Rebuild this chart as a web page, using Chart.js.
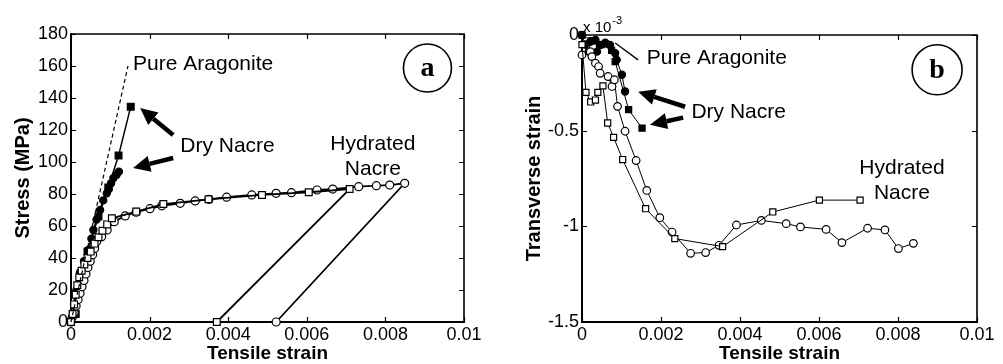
<!DOCTYPE html>
<html>
<head>
<meta charset="utf-8">
<script src="https://cdn.jsdelivr.net/npm/chart.js@4.4.1/dist/chart.umd.min.js"></script>
<style>
  html, body { margin: 0; padding: 0; background: #fff; }
  #wrap { position: relative; width: 1003px; height: 364px; }
  #wrap canvas { position: absolute; left: 0; top: 0; }
</style>
</head>
<body>
<div id="wrap">
  <canvas id="panelA" width="1003" height="364"></canvas>
  <canvas id="panelB" width="1003" height="364"></canvas>
</div>
<script>
// ---- panel (a): stress vs tensile strain, [strain, MPa] ----
const pureAragoniteA = [[0, 0], [0.00145, 160]];
const dryNacreSquaresA = [[0, 0], [0.00012, 5], [0.00042, 44], [0.0007, 66], [0.00095, 84], [0.00121, 104], [0.00152, 134.6]];
const dryNacreCirclesA = [[0, 0], [0.00007, 4], [0.0001, 10], [0.00014, 20], [0.00023, 31], [0.00033, 38], [0.00044, 45],
  [0.00052, 52], [0.00057, 57.5], [0.00065, 64], [0.00074, 70], [0.00082, 76], [0.00091, 80.4], [0.00096, 83],
  [0.00102, 86.7], [0.00108, 90], [0.00116, 92], [0.00122, 94]];
const hydratedCirclesA = [[0, 0], [0.00003, 3], [0.00008, 6], [0.00013, 10], [0.00018, 14], [0.00023, 18], [0.00028, 22],
  [0.00033, 26], [0.00038, 30], [0.00043, 34], [0.00049, 38], [0.00055, 42], [0.0006, 46], [0.00065, 50.2],
  [0.00078, 53.3], [0.00092, 57.5], [0.0011, 62.7], [0.00138, 66.3], [0.00166, 68.6], [0.00201, 70.8],
  [0.00231, 72.6], [0.00278, 74.2], [0.00316, 75.7], [0.00351, 76.7], [0.00396, 78], [0.0046, 79.4],
  [0.00522, 80.4], [0.00561, 80.8], [0.00626, 82.5], [0.00666, 83.1], [0.00732, 84.6], [0.00777, 85.2],
  [0.00811, 85.6], [0.00849, 86.7], [0.00522, 0]];
const hydratedSquaresA = [[0, 0], [0.00004, 5], [0.00008, 11], [0.00012, 17], [0.00016, 23], [0.00021, 28], [0.00027, 32],
  [0.00034, 36], [0.00042, 40], [0.0005, 44], [0.0006, 49], [0.0007, 53], [0.0008, 57], [0.00092, 61],
  [0.00104, 64.8], [0.00166, 69], [0.00235, 73.7], [0.0035, 76.7], [0.00486, 79.4], [0.00605, 81.1],
  [0.00709, 83.1], [0.00371, 0]];

// ---- panel (b): transverse strain (x 10^-3) vs tensile strain ----
const dryNacreCirclesB = [[0, 0], [0.00008, -0.05], [0.00017, -0.087], [0.00021, -0.035], [0.00034, -0.026],
  [0.00038, -0.087], [0.00046, -0.052], [0.00059, -0.04], [0.00071, -0.052], [0.00084, -0.095],
  [0.00088, -0.13], [0.00101, -0.208], [0.00109, -0.295]];
const dryNacreSquaresB = [[0, 0], [0.00025, -0.03], [0.0005, -0.05], [0.00075, -0.08], [0.00084, -0.139],
  [0.00118, -0.39], [0.00152, -0.487]];
const hydratedCirclesB = [[0, -0.104], [0.00021, -0.087], [0.00025, -0.113], [0.00034, -0.147], [0.00042, -0.165],
  [0.00046, -0.2], [0.00066, -0.217], [0.00076, -0.269], [0.00082, -0.234], [0.0009, -0.373], [0.00109, -0.503],
  [0.00137, -0.656], [0.00164, -0.8125], [0.00197, -0.955], [0.00228, -1.03], [0.00275, -1.141], [0.00313, -1.137],
  [0.00347, -1.099], [0.00391, -0.993], [0.00454, -0.969], [0.00517, -0.986], [0.00553, -1.003], [0.00618, -1.016],
  [0.00658, -1.085], [0.00723, -1.01], [0.00767, -1.019], [0.00801, -1.116], [0.00839, -1.089]];
const hydratedSquaresB = [[0, -0.05], [0.0001, -0.3], [0.00022, -0.35], [0.00034, -0.34], [0.0004, -0.3],
  [0.00053, -0.266], [0.00065, -0.46], [0.0008, -0.535], [0.00103, -0.651], [0.00161, -0.908], [0.00235, -1.064],
  [0.00356, -1.106], [0.00483, -0.925], [0.00601, -0.863], [0.00704, -0.863]];

const strainTicks = { min: 0, max: 0.01, step: 0.002 };

const FONT = '"Liberation Sans", Arial, sans-serif';
const toXY = arr => arr.map(p => ({ x: p[0], y: p[1] }));

// annotations, positioned in data units
const notes = {
  panelA: {
    texts: [
      { t: 'Pure Aragonite', x: 0.00158, y: 161, align: 'left' },
      { t: 'Dry Nacre', x: 0.00278, y: 110, align: 'left' },
      { t: 'Hydrated', x: 0.00768, y: 111, align: 'center' },
      { t: 'Nacre', x: 0.00768, y: 95.6, align: 'center' }
    ],
    arrows: [
      { from: [0.0026, 116.9], to: [0.00176, 133.75] },
      { from: [0.0026, 102.5], to: [0.00158, 96.25] }
    ],
    leaders: [],
    badge: { t: 'a', x: 0.00907, y: 158.75, r: 24 },
    yTitle: 'Stress (MPa)',
    xTitle: 'Tensile strain',
    exponent: false
  },
  panelB: {
    texts: [
      { t: 'Pure Aragonite', x: 0.00164, y: -0.12, align: 'left' },
      { t: 'Dry Nacre', x: 0.00277, y: -0.406, align: 'left' },
      { t: 'Hydrated', x: 0.0081, y: -0.698, align: 'center' },
      { t: 'Nacre', x: 0.0081, y: -0.828, align: 'center' }
    ],
    arrows: [
      { from: [0.00261, -0.375], to: [0.00142, -0.297] },
      { from: [0.00256, -0.432], to: [0.00172, -0.469] }
    ],
    leaders: [{ from: [0.00142, -0.13], to: [0.00084, -0.042] }],
    badge: { t: 'b', x: 0.00899, y: -0.182, r: 25 },
    yTitle: 'Transverse strain',
    xTitle: 'Tensile strain',
    exponent: true
  }
};

// box + inward ticks on all four sides
const framePlugin = {
  id: 'frame',
  beforeDatasetsDraw(chart) {
    const { ctx, chartArea: a, scales } = chart;
    ctx.save();
    ctx.strokeStyle = '#000';
    ctx.lineWidth = 1.6;
    ctx.beginPath();
    ctx.moveTo(a.left, a.top); ctx.lineTo(a.right, a.top); ctx.lineTo(a.right, a.bottom);
    ctx.stroke();
    ctx.lineWidth = 1.2;
    ctx.beginPath();
    scales.x.ticks.forEach(t => {
      const px = Math.round(scales.x.getPixelForValue(t.value)) + 0.5;
      ctx.moveTo(px, a.bottom); ctx.lineTo(px, a.bottom - 5);
      ctx.moveTo(px, a.top); ctx.lineTo(px, a.top + 5);
    });
    scales.y.ticks.forEach(t => {
      const py = Math.round(scales.y.getPixelForValue(t.value)) + 0.5;
      ctx.moveTo(a.left, py); ctx.lineTo(a.left + 5, py);
      ctx.moveTo(a.right, py); ctx.lineTo(a.right - 5, py);
    });
    ctx.stroke();
    ctx.restore();
  }
};

function drawArrow(ctx, x1, y1, x2, y2) {
  const ang = Math.atan2(y2 - y1, x2 - x1);
  const headLen = 17, headHalf = 8;
  const bx = x2 - headLen * Math.cos(ang), by = y2 - headLen * Math.sin(ang);
  ctx.lineWidth = 4.5;
  ctx.beginPath(); ctx.moveTo(x1, y1); ctx.lineTo(bx, by); ctx.stroke();
  ctx.beginPath();
  ctx.moveTo(x2, y2);
  ctx.lineTo(bx + headHalf * Math.sin(ang), by - headHalf * Math.cos(ang));
  ctx.lineTo(bx - headHalf * Math.sin(ang), by + headHalf * Math.cos(ang));
  ctx.closePath(); ctx.fill();
}

const notesPlugin = {
  id: 'notes',
  afterDraw(chart) {
    const cfg = notes[chart.canvas.id];
    const { ctx, chartArea: a, scales: { x, y } } = chart;
    const X = v => x.getPixelForValue(v), Y = v => y.getPixelForValue(v);
    ctx.save();
    ctx.fillStyle = '#000'; ctx.strokeStyle = '#000';

    ctx.font = '21px ' + FONT;
    ctx.textBaseline = 'middle';
    cfg.texts.forEach(n => { ctx.textAlign = n.align; ctx.fillText(n.t, X(n.x), Y(n.y)); });

    cfg.arrows.forEach(ar => drawArrow(ctx, X(ar.from[0]), Y(ar.from[1]), X(ar.to[0]), Y(ar.to[1])));
    ctx.lineWidth = 1.3;
    cfg.leaders.forEach(l => {
      ctx.beginPath(); ctx.moveTo(X(l.from[0]), Y(l.from[1])); ctx.lineTo(X(l.to[0]), Y(l.to[1])); ctx.stroke();
    });

    // circled panel letter
    const b = cfg.badge;
    ctx.lineWidth = 1.6;
    ctx.beginPath(); ctx.arc(X(b.x), Y(b.y), b.r, 0, Math.PI * 2); ctx.stroke();
    ctx.font = 'bold 28px "Liberation Serif", "Times New Roman", serif';
    ctx.textAlign = 'center';
    ctx.fillText(b.t, X(b.x), Y(b.y) + 1);

    // axis titles
    ctx.font = 'bold 19px ' + FONT;
    ctx.textBaseline = 'alphabetic';
    ctx.fillText(cfg.xTitle, (a.left + a.right) / 2, 359);
    ctx.save();
    ctx.translate(a.left - 48, (a.top + a.bottom) / 2);
    ctx.rotate(-Math.PI / 2);
    ctx.font = 'bold 20px ' + FONT;
    ctx.textBaseline = 'middle';
    ctx.fillText(cfg.yTitle, 0, 0);
    ctx.restore();

    if (cfg.exponent) {
      ctx.textAlign = 'left';
      ctx.font = '15px ' + FONT;
      ctx.fillText('x 10', a.left + 1, a.top - 3);
      const w = ctx.measureText('x 10').width;
      ctx.font = '11px ' + FONT;
      ctx.fillText('-3', a.left + 1 + w + 1, a.top - 11);
    }
    ctx.restore();
  }
};

function series(data, style, filled, radius, lineWidth, dashed) {
  return {
    data: toXY(data),
    showLine: true,
    clip: false,
    borderColor: '#000',
    borderWidth: lineWidth,
    borderDash: dashed ? [4, 3] : [],
    pointStyle: style,
    pointRadius: radius,
    pointBorderWidth: 1.2,
    pointBorderColor: '#000',
    pointBackgroundColor: filled ? '#000' : '#fff',
    pointHoverRadius: radius
  };
}

// axis boxes have fixed sizes so the plot area lands where the reference has it
const Y_AXIS_W = 60, X_AXIS_H = 30;

function makeOptions(pad, yMin, yMax, yStep) {
  const tickFont = { family: FONT, size: 18 };
  const fmt = v => String(parseFloat(Number(v).toFixed(4)));
  return {
    responsive: false,
    animation: false,
    events: [],
    layout: { padding: pad },
    plugins: { legend: { display: false }, tooltip: { enabled: false } },
    scales: {
      x: {
        type: 'linear', min: strainTicks.min, max: strainTicks.max,
        afterFit: s => { s.height = X_AXIS_H; },
        border: { display: true, color: '#000', width: 2 },
        grid: { display: false, drawTicks: false, tickLength: 0 },
        ticks: { stepSize: strainTicks.step, color: '#000', font: tickFont, padding: 2, maxRotation: 0, autoSkip: false, callback: fmt }
      },
      y: {
        type: 'linear', min: yMin, max: yMax,
        afterFit: s => { s.width = Y_AXIS_W; },
        border: { display: true, color: '#000', width: 2 },
        grid: { display: false, drawTicks: false, tickLength: 0 },
        ticks: { stepSize: yStep, color: '#000', font: tickFont, padding: 3, autoSkip: false, callback: fmt }
      }
    }
  };
}

new Chart(document.getElementById('panelA'), {
  type: 'scatter',
  data: {
    datasets: [
      series(pureAragoniteA, false, false, 0, 1.2, true),
      series(hydratedSquaresA, 'rect', false, 4.8, 1.8),
      series(hydratedCirclesA, 'circle', false, 4, 1.8),
      series(dryNacreCirclesA, 'circle', true, 3.6, 1.5),
      series(dryNacreSquaresA, 'rect', true, 4.8, 1.5)
    ]
  },
  options: makeOptions({ left: 71 - Y_AXIS_W, top: 34, right: 539, bottom: 42 - X_AXIS_H }, 0, 180, 20),
  plugins: [framePlugin, notesPlugin]
});

new Chart(document.getElementById('panelB'), {
  type: 'scatter',
  data: {
    datasets: [
      series(hydratedSquaresB, 'rect', false, 4.3, 1),
      series(hydratedCirclesB, 'circle', false, 3.8, 1),
      series(dryNacreCirclesB, 'circle', true, 3.6, 1),
      series(dryNacreSquaresB, 'rect', true, 4.3, 1)
    ]
  },
  options: makeOptions({ left: 582 - Y_AXIS_W, top: 35, right: 26, bottom: 42 - X_AXIS_H }, -1.5, 0, 0.5),
  plugins: [framePlugin, notesPlugin]
});
</script>
</body>
</html>
